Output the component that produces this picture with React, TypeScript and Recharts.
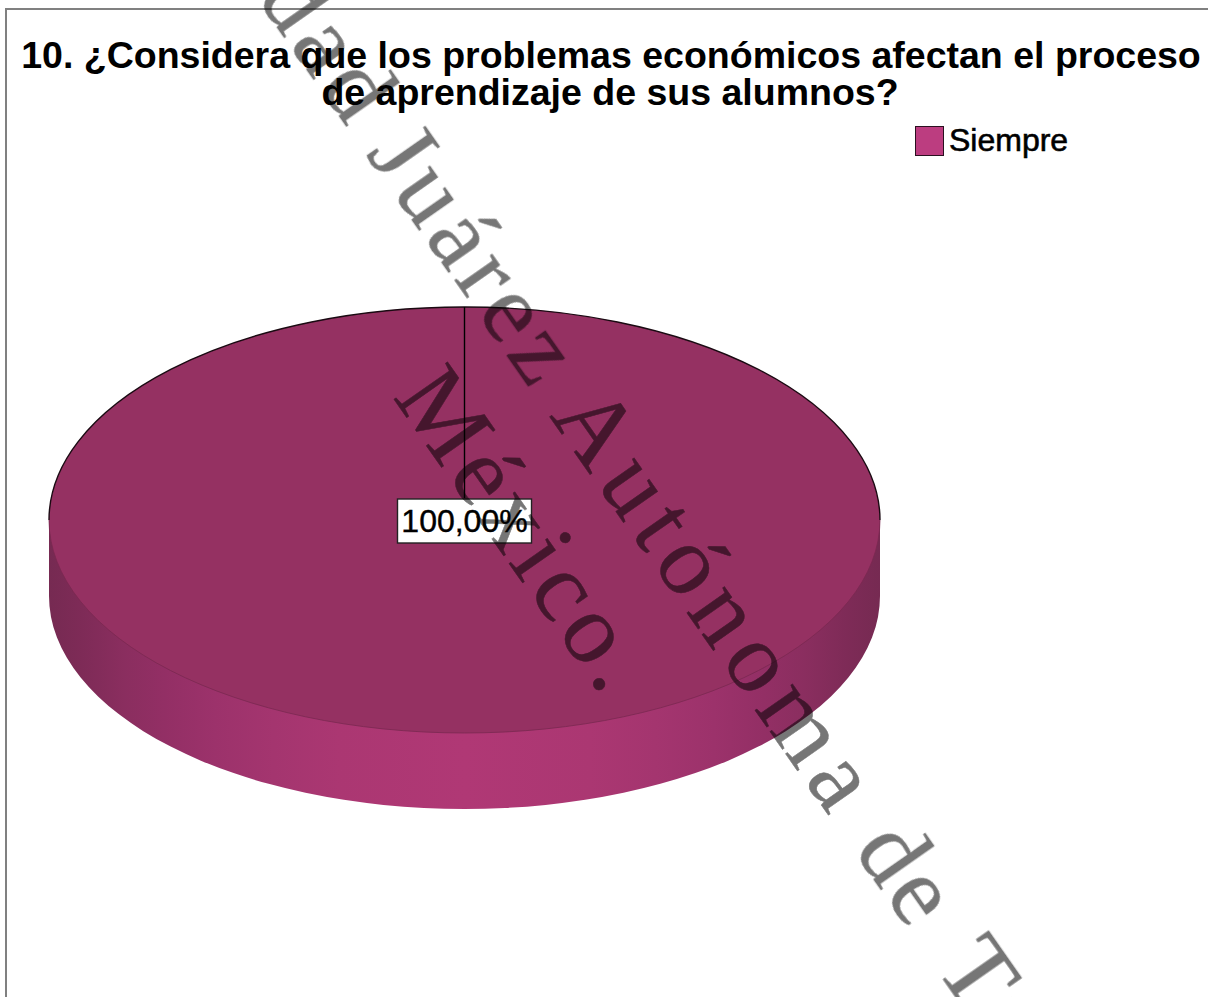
import { Legend, Pie, PieChart } from "recharts";

const categories = ["Siempre"];
const seriesValues = [100];
const percentLabels = ["100,00%"];
const titleLines = [
  "10. ¿Considera que los problemas económicos afectan el proceso",
  "de aprendizaje de sus alumnos?",
];
const watermarkWords = ["Universidad", "Juárez", "Autónoma", "de", "Tabasco."];
const watermarkLastLine = "México.";

const data = categories.map((name, i) => ({ name, value: seriesValues[i] }));

const WIDTH = 1208;
const HEIGHT = 997;
const TILT = 213 / 415.5;
const DEPTH = 76;
// the watermark runs down a 55deg baseline, words measured from the "A"
const MARK_ORIGIN = [549, 416];
const MARK_COS = Math.cos((55 * Math.PI) / 180);
const MARK_SIN = Math.sin((55 * Math.PI) / 180);
const MARK_OFFSETS = [-345, -320, 0, 530, 672];
const MARK_SPACING = [7, 6.5, 9.5, 4, 7];
const WALL_STOPS = [
  ["0%", "#762a52"],
  ["4%", "#7e2b57"],
  ["9%", "#8a2e5f"],
  ["14%", "#932f65"],
  ["20%", "#9c326b"],
  ["27%", "#a4356f"],
  ["35%", "#ab3772"],
  ["50%", "#b03875"],
  ["65%", "#ab3772"],
  ["73%", "#a4356f"],
  ["80%", "#9c326b"],
  ["86%", "#932f65"],
  ["91%", "#8a2e5f"],
  ["96%", "#7e2b57"],
  ["100%", "#762a52"],
];

function DiscShape(props: any) {
  const { cx, cy, outerRadius: r } = props;
  const ry = r * TILT;
  const wall = `M${cx - r},${cy} L${cx - r},${cy + DEPTH} A${r},${ry} 0 0 0 ${cx + r},${cy + DEPTH} L${cx + r},${cy} Z`;
  return (
    <g>
      <defs>
        <linearGradient id="wall" x1="0" y1="0" x2="1" y2="0">
          {WALL_STOPS.map(([offset, color]) => (
            <stop key={offset} offset={offset} stopColor={color} />
          ))}
        </linearGradient>
      </defs>
      <path d={wall} fill="url(#wall)" />
      <ellipse cx={cx} cy={cy} rx={r} ry={ry} fill="#953162" />
      <path
        d={`M${cx - r},${cy} A${r},${ry} 0 0 1 ${cx + r},${cy}`}
        fill="none"
        stroke="#1a0a12"
        strokeWidth={1.4}
      />
      <path
        d={`M${cx - r},${cy} A${r},${ry} 0 0 0 ${cx + r},${cy}`}
        fill="none"
        stroke="#7a2850"
        strokeWidth={0.8}
      />
    </g>
  );
}

function LeaderLine(props: any) {
  const { cx, cy, outerRadius: r } = props;
  return (
    <line
      x1={cx}
      y1={cy - r * TILT}
      x2={cx}
      y2={cy - 22}
      stroke="#000"
      strokeWidth={1.4}
    />
  );
}

function PercentLabel(props: any) {
  const { cx, cy, index } = props;
  return (
    <g>
      <rect
        x={cx - 67}
        y={cy - 21}
        width={134}
        height={44}
        fill="#fff"
        stroke="#222"
        strokeWidth={1.4}
      />
      <text
        x={cx}
        y={cy + 12}
        textAnchor="middle"
        fontFamily="Liberation Sans"
        fontSize={32}
        fill="#000"
        stroke="#000"
        strokeWidth={0.4}
      >
        {percentLabels[index]}
      </text>
    </g>
  );
}

function LegendBox({ payload }: any) {
  return (
    <div style={{ display: "flex", alignItems: "center" }}>
      {(payload ?? []).map((entry: any) => (
        <div key={entry.value} style={{ display: "flex", alignItems: "center" }}>
          <span
            style={{
              width: 27,
              height: 28,
              background: "#bc3d80",
              border: "1px solid #2a1020",
              display: "inline-block",
              marginRight: 5,
            }}
          />
          <span
            style={{
              fontFamily: "Liberation Sans",
              fontSize: 32,
              color: "#000",
              WebkitTextStroke: "0.6px #000",
            }}
          >
            {entry.value}
          </span>
        </div>
      ))}
    </div>
  );
}

export default function App() {
  return (
    <div
      style={{
        position: "absolute",
        left: 0,
        top: 0,
        width: WIDTH,
        height: HEIGHT,
        overflow: "hidden",
        background: "#fff",
      }}
    >
      <div
        style={{
          position: "absolute",
          left: 5,
          top: 8,
          right: -4,
          bottom: -4,
          borderTop: "2px solid #808080",
          borderLeft: "2px solid #808080",
        }}
      />
      <div style={{ position: "absolute", left: 0, top: 0 }}>
        <PieChart width={WIDTH} height={HEIGHT} margin={{ top: 0, right: 0, bottom: 0, left: 0 }}>
          <text
            fontFamily="Liberation Sans"
            fontWeight="bold"
            fontSize={37.5}
            fill="#000"
            textAnchor="middle"
          >
            <tspan x={611} y={68}>{titleLines[0]}</tspan>
            <tspan x={610} y={105}>{titleLines[1]}</tspan>
          </text>
          <Pie
            data={data}
            dataKey="value"
            nameKey="name"
            cx={464.5}
            cy={520}
            outerRadius={415.5}
            startAngle={90}
            endAngle={-270}
            stroke="none"
            fill="#bc3d80"
            shape={DiscShape}
            label={PercentLabel}
            labelLine={LeaderLine}
            isAnimationActive={false}
          />
          <Legend
            content={<LegendBox />}
            wrapperStyle={{ position: "absolute", left: 915, top: 122, width: 220, bottom: "auto" }}
          />
        </PieChart>
      </div>
      <svg
        width={WIDTH}
        height={HEIGHT}
        style={{ position: "absolute", left: 0, top: 0, pointerEvents: "none" }}
      >
        <g
          fontFamily="Liberation Serif"
          fontSize={100}
          fill="#000"
          stroke="#000"
          strokeWidth={0.5}
          opacity={0.54}
        >
          {watermarkWords.map((word, i) => (
            <text
              key={word}
              transform={`translate(${MARK_ORIGIN[0] + MARK_OFFSETS[i] * MARK_COS},${MARK_ORIGIN[1] + MARK_OFFSETS[i] * MARK_SIN}) rotate(55)`}
              textAnchor={i === 0 ? "end" : "start"}
              letterSpacing={MARK_SPACING[i]}
            >
              {word}
            </text>
          ))}
          <text transform="translate(606,702) rotate(55)" textAnchor="end" letterSpacing={6}>
            {watermarkLastLine}
          </text>
        </g>
      </svg>
    </div>
  );
}
